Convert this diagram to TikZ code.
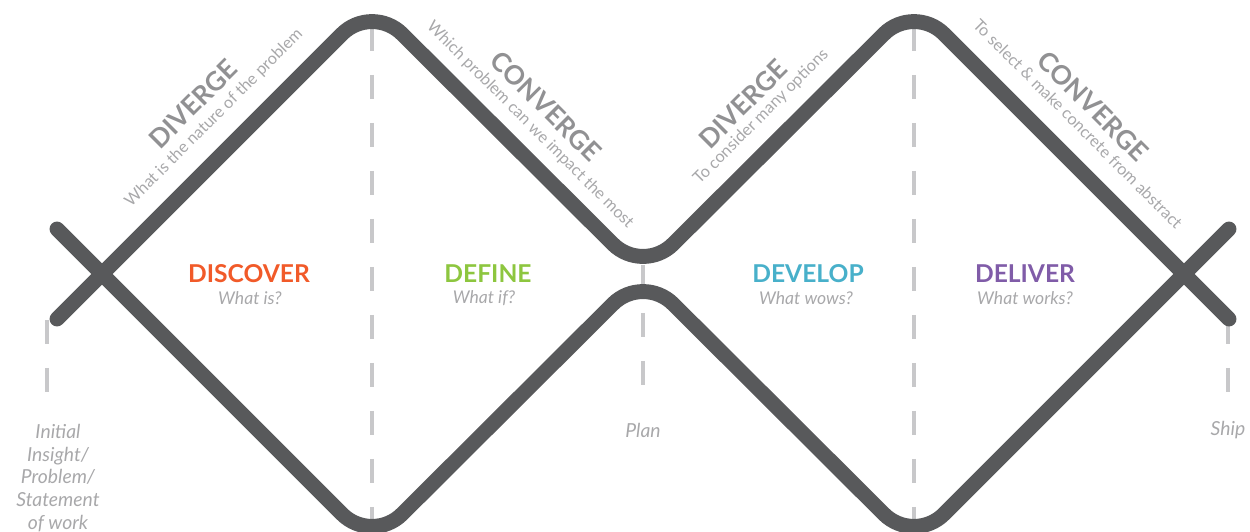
\documentclass[tikz,border=0pt]{standalone}
\usepackage{fontspec}
\setmainfont{Lato}
\usepackage{tikz}
\definecolor{graphite}{RGB}{88, 89, 91}
\definecolor{silver}{RGB}{200, 200, 202}
\definecolor{ash}{RGB}{145, 145, 147}
\definecolor{smoke}{RGB}{168, 168, 170}
\definecolor{tangerine}{RGB}{241, 90, 41}
\definecolor{leaf}{RGB}{141, 198, 63}
\definecolor{lagoon}{RGB}{72, 176, 202}
\definecolor{amethyst}{RGB}{128, 92, 168}
\tikzset{
    track/.style     = {color=graphite, line width=8.5pt, rounded corners=0.85cm, line cap=round, line join=round},
    stage/.style     = {color=silver, line width=2.4pt, dash pattern=on 0.48cm off 0.48cm},
    move/.style      = {color=ash, font=\bfseries\fontsize{15}{15}\selectfont, inner sep=0pt},
    hint/.style      = {color=smoke, font=\fontsize{9.3}{10}\selectfont, inner sep=0pt},
    phase/.style     = {font=\bfseries\fontsize{14}{14}\selectfont, inner sep=0pt},
    ask/.style       = {color=smoke, font=\itshape\fontsize{10}{10}\selectfont, inner sep=0pt},
    milestone/.style = {color=smoke, font=\itshape\fontsize{11}{13}\selectfont, inner sep=0pt, align=center}
}

\begin{document}
\begin{tikzpicture}[x=0.02cm, y=-0.02cm]
            \useasboundingbox (0,0) rectangle (1250,531);
            \clip             (0,0) rectangle (1250,531);
            % phase borders
            \draw[stage] (  47,320) -- (  47,392);
            \draw[stage] ( 372, 27) -- ( 372,540);
            \draw[stage] ( 643,265) -- ( 643,390);
            \draw[stage] ( 914, 27) -- ( 914,540);
            \draw[stage] (1228,320) -- (1228,392);
            % the double diamond
            \coordinate (startT) at (  57,319);
            \coordinate (startB) at (  57,229);
            \coordinate (peakA)  at ( 372,  4);
            \coordinate (dipA)   at ( 372,544);
            \coordinate (pinch)  at ( 643,274);
            \coordinate (peakB)  at ( 914,  4);
            \coordinate (dipB)   at ( 914,544);
            \coordinate (endT)   at (1229,319);
            \coordinate (endB)   at (1229,229);
            \draw[track] (startT) -- (peakA) -- (pinch) -- (peakB) -- (endT);
            \draw[track] (startB) -- (dipA)  -- (pinch) -- (dipB)  -- (endB);
            % along the lines
            \node[move, rotate= 45] (divergeA)  at ( 193,104) {DIVERGE};
            \node[hint, rotate= 45] (natureA)   at ( 214,118) {What is the nature of the problem};
            \node[move, rotate=-45] (convergeA) at ( 546,106) {CONVERGE};
            \node[hint, rotate=-45] (impactA)   at ( 530,125) {Which problem can we impact the most};
            \node[move, rotate= 45] (divergeB)  at ( 743,104) {DIVERGE};
            \node[hint, rotate= 45] (optionsB)  at ( 761,117) {To consider many options};
            \node[move, rotate=-45] (convergeB) at (1093,106) {CONVERGE};
            \node[hint, rotate=-45] (selectB)   at (1078,124) {To select \& make concrete from abstract};
            % the four phases
            \node[phase, color=tangerine] (discover) at ( 249,274) {DISCOVER};
            \node[ask]                    (whatIs)   at ( 250,298) {What is?};
            \node[phase, color=leaf]      (define)   at ( 488,274) {DEFINE};
            \node[ask]                    (whatIf)   at ( 484,298) {What if?};
            \node[phase, color=lagoon]    (develop)  at ( 808,274) {DEVELOP};
            \node[ask]                    (whatWows) at ( 806,298) {What wows?};
            \node[phase, color=amethyst]  (deliver)  at (1025,274) {DELIVER};
            \node[ask]                    (whatWorks)at (1025,298) {What works?};
            % milestones
            \node[milestone] (initial) at (  58,478) {Initial\\Insight/\\Problem/\\Statement\\of work};
            \node[milestone] (plan)    at ( 643,430) {Plan};
            \node[milestone] (ship)    at (1228,430) {Ship};
        \end{tikzpicture}
\end{document}
